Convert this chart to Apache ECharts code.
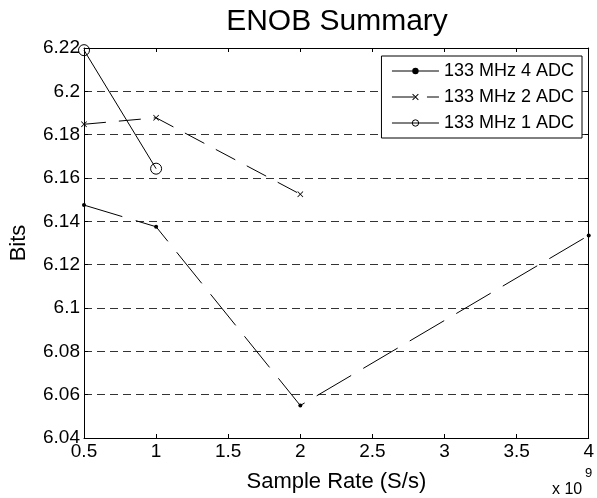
<!DOCTYPE html>
<html>
<head>
<meta charset="utf-8">
<script src="https://cdn.jsdelivr.net/npm/echarts@6/dist/echarts.min.js"></script>
<style>
  html, body { margin: 0; padding: 0; background: #fff; }
  #chart { width: 597px; height: 498px; }
</style>
</head>
<body>
<div id="chart"></div>
<script>
  // sample rate, in units of 1e9 S/s
  var rate4 = [0.5, 1, 2, 4];
  var enob4 = [6.1475, 6.1375, 6.055, 6.1335];
  var rate2 = [0.5, 1, 2];
  var enob2 = [6.1848, 6.1878, 6.1525];
  var rate1 = [0.5, 1];
  var enob1 = [6.219, 6.1643];
  var seriesNames = ['133 MHz 4 ADC', '133 MHz 2 ADC', '133 MHz 1 ADC'];
  var xTickLabels = ['0.5', '1', '1.5', '2', '2.5', '3', '3.5', '4'];
  var yTickLabels = ['6.04', '6.06', '6.08', '6.1', '6.12', '6.14', '6.16', '6.18', '6.2', '6.22'];

  var font = 'Liberation Sans, Arial, Helvetica, sans-serif';
  var crossPath = 'path://M0,1L1,0L5,4L9,0L10,1L6,5L10,9L9,10L5,6L1,10L0,9L4,5Z';

  function pairs(xs, ys) {
    var out = [];
    xs.forEach(function (x, i) { out.push([x, ys[i]]); });
    return out;
  }

  var chart = echarts.init(document.getElementById('chart'));

  var axisLine = { show: true, lineStyle: { color: '#000', width: 1 } };
  var axisTick = { show: true, inside: true, length: 4, lineStyle: { color: '#000' } };

  chart.setOption({
    animation: false,
    backgroundColor: '#fff',
    title: {
      text: 'ENOB Summary',
      left: 332,
      textAlign: 'center',
      top: 2,
      textStyle: { fontFamily: font, fontSize: 30, fontWeight: 'normal', color: '#000' }
    },
    grid: { left: 81, right: 4, top: 48, bottom: 56, containLabel: false },
    legend: {
      orient: 'vertical',
      right: 15,
      top: 56,
      padding: [6, 8, 6, 10],
      itemGap: 8,
      itemWidth: 47,
      itemHeight: 8,
      borderColor: '#000',
      borderWidth: 1,
      borderRadius: 0,
      backgroundColor: '#fff',
      lineStyle: { width: 1 },
      itemStyle: { borderWidth: 1 },
      textStyle: { fontFamily: font, fontSize: 18, color: '#000', padding: [0, 0, 0, 0] },
      data: [
        { name: seriesNames[0], lineStyle: { type: 'solid', width: 1 } },
        { name: seriesNames[1] },
        { name: seriesNames[2], lineStyle: { type: 'solid', width: 1 } }
      ]
    },
    xAxis: [{
      type: 'value',
      min: 0.5,
      max: 4,
      interval: 0.5,
      name: 'Sample Rate (S/s)',
      nameLocation: 'middle',
      nameGap: 33,
      nameTextStyle: { fontFamily: font, fontSize: 22, color: '#000' },
      axisLine: axisLine,
      axisTick: axisTick,
      splitLine: { show: false },
      axisLabel: {
        fontFamily: font, fontSize: 19, color: '#000', margin: 4,
        formatter: function (v) { return xTickLabels[Math.round((v - 0.5) / 0.5)]; }
      }
    }, {
      type: 'value',
      position: 'top',
      min: 0.5,
      max: 4,
      interval: 0.5,
      axisLine: axisLine,
      axisTick: axisTick,
      axisLabel: { show: false },
      splitLine: { show: false }
    }],
    yAxis: [{
      type: 'value',
      min: 6.04,
      max: 6.22,
      interval: 0.02,
      name: 'Bits',
      nameLocation: 'middle',
      nameGap: 54,
      nameTextStyle: { fontFamily: font, fontSize: 22, color: '#000' },
      axisLine: axisLine,
      axisTick: axisTick,
      axisLabel: {
        fontFamily: font, fontSize: 19, color: '#000', margin: 4,
        formatter: function (v) { return yTickLabels[Math.round((v - 6.04) / 0.02)]; }
      },
      splitLine: { show: true, lineStyle: { color: '#333', width: 1, type: [8, 5] } }
    }, {
      type: 'value',
      position: 'right',
      min: 6.04,
      max: 6.22,
      interval: 0.02,
      axisLine: axisLine,
      axisTick: axisTick,
      axisLabel: { show: false },
      splitLine: { show: false }
    }],
    graphic: [
      { type: 'text', left: 552, top: 482, style: { text: 'x 10', font: '16px ' + font, fill: '#000' } },
      { type: 'text', left: 585, top: 467, style: { text: '9', font: '13px ' + font, fill: '#000' } }
    ],
    series: [{
      name: seriesNames[0],
      type: 'line',
      data: pairs(rate4, enob4),
      symbol: 'circle',
      symbolSize: 4,
      itemStyle: { color: '#000' },
      lineStyle: { color: '#000', width: 1, type: [40, 14] }
    }, {
      name: seriesNames[1],
      type: 'line',
      data: pairs(rate2, enob2),
      symbol: crossPath,
      symbolSize: 6,
      itemStyle: { color: '#000' },
      lineStyle: { color: '#000', width: 1, type: [22, 13] }
    }, {
      name: seriesNames[2],
      type: 'line',
      data: pairs(rate1, enob1),
      symbol: 'circle',
      symbolSize: 11,
      itemStyle: { color: 'rgba(255,255,255,0)', borderColor: '#000', borderWidth: 1 },
      lineStyle: { color: '#000', width: 1 }
    }]
  });
</script>
</body>
</html>
